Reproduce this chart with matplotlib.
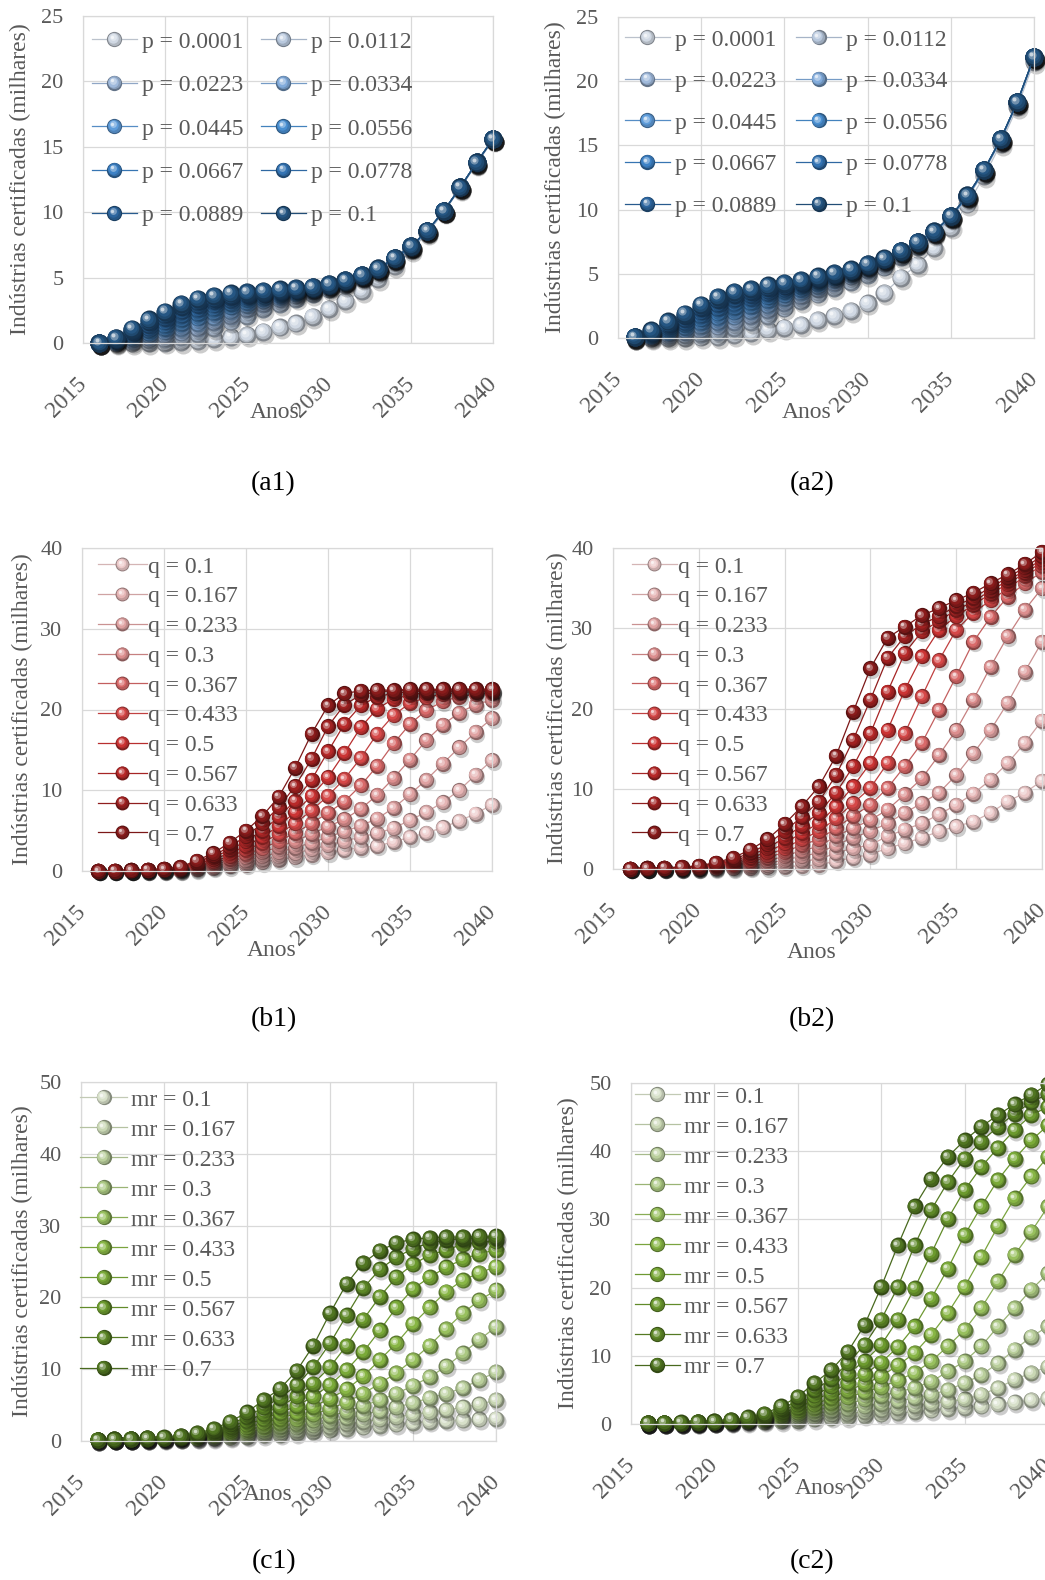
import numpy as np
import matplotlib
matplotlib.use('Agg')
import matplotlib.pyplot as plt
from matplotlib import transforms
from matplotlib.colors import to_rgb
from matplotlib.lines import Line2D
from matplotlib.legend_handler import HandlerBase

plt.rcParams['font.family'] = ['Liberation Serif', 'DejaVu Serif']

years = list(range(2016, 2041))

a_labels = ['p = 0.0001', 'p = 0.0112', 'p = 0.0223', 'p = 0.0334', 'p = 0.0445',
            'p = 0.0556', 'p = 0.0667', 'p = 0.0778', 'p = 0.0889', 'p = 0.1']
b_labels = ['q = 0.1', 'q = 0.167', 'q = 0.233', 'q = 0.3', 'q = 0.367',
            'q = 0.433', 'q = 0.5', 'q = 0.567', 'q = 0.633', 'q = 0.7']
c_labels = ['mr = 0.1', 'mr = 0.167', 'mr = 0.233', 'mr = 0.3', 'mr = 0.367',
            'mr = 0.433', 'mr = 0.5', 'mr = 0.567', 'mr = 0.633', 'mr = 0.7']

# (a1) one row per year, columns = p from 0.0001 to 0.1
a1_rows = [
    [0, 0, 0, 0, 0, 0, 0, 0, 0, 0],
    [0, .05, .1, .14, .19, .23, .27, .32, .36, .4],
    [0, .13, .26, .38, .5, .62, .74, .86, .98, 1.1],
    [.01, .22, .43, .63, .82, 1.0, 1.2, 1.4, 1.6, 1.8],
    [.03, .32, .6, .88, 1.15, 1.4, 1.65, 1.9, 2.15, 2.4],
    [.08, .45, .82, 1.18, 1.52, 1.85, 2.15, 2.45, 2.75, 3.0],
    [.18, .7, 1.15, 1.55, 1.95, 2.3, 2.6, 2.9, 3.15, 3.4],
    [.3, 1.15, 1.6, 2.0, 2.4, 2.7, 2.95, 3.2, 3.4, 3.6],
    [.45, 1.65, 2.1, 2.45, 2.8, 3.05, 3.3, 3.5, 3.65, 3.8],
    [.6, 2.1, 2.6, 2.9, 3.15, 3.35, 3.55, 3.7, 3.8, 3.9],
    [.85, 2.6, 3.0, 3.25, 3.45, 3.6, 3.75, 3.85, 3.93, 4.0],
    [1.2, 3.0, 3.35, 3.55, 3.7, 3.82, 3.92, 4.0, 4.05, 4.1],
    [1.5, 3.4, 3.65, 3.8, 3.92, 4.0, 4.07, 4.12, 4.16, 4.2],
    [2.0, 3.75, 3.95, 4.05, 4.12, 4.18, 4.22, 4.25, 4.28, 4.3],
    [2.6, 4.1, 4.25, 4.33, 4.38, 4.42, 4.45, 4.47, 4.49, 4.5],
    [3.2, 4.45, 4.58, 4.65, 4.7, 4.73, 4.76, 4.78, 4.79, 4.8],
    [4.0, 4.95, 5.05, 5.1, 5.13, 5.15, 5.17, 5.18, 5.19, 5.2],
    [4.9, 5.5, 5.58, 5.62, 5.65, 5.67, 5.68, 5.69, 5.7, 5.7],
    [5.9, 6.3, 6.38, 6.42, 6.45, 6.47, 6.48, 6.49, 6.5, 6.5],
    [7.1, 7.25, 7.3, 7.33, 7.35, 7.37, 7.38, 7.39, 7.4, 7.4],
    [8.4, 8.5, 8.53, 8.55, 8.57, 8.58, 8.59, 8.6, 8.6, 8.6],
    [10.0, 10.05, 10.07, 10.08, 10.09, 10.1, 10.1, 10.1, 10.1, 10.1],
    [11.8, 11.85, 11.87, 11.88, 11.89, 11.9, 11.9, 11.9, 11.9, 11.9],
    [13.7, 13.75, 13.77, 13.78, 13.79, 13.8, 13.8, 13.8, 13.8, 13.8],
    [15.5, 15.55, 15.57, 15.58, 15.59, 15.6, 15.6, 15.6, 15.6, 15.6],
]

# (a2) one row per year
a2_rows = [
    [0, .01, .02, .03, .04, .05, .06, .07, .08, .1],
    [0, .07, .13, .2, .27, .33, .4, .47, .53, .6],
    [.01, .15, .3, .44, .58, .72, .87, 1.0, 1.15, 1.3],
    [.02, .23, .45, .66, .87, 1.08, 1.28, 1.5, 1.7, 1.9],
    [.05, .35, .65, .95, 1.25, 1.52, 1.8, 2.07, 2.33, 2.6],
    [.1, .5, .9, 1.28, 1.65, 2.0, 2.33, 2.65, 2.95, 3.2],
    [.25, .8, 1.25, 1.68, 2.07, 2.43, 2.75, 3.07, 3.35, 3.6],
    [.4, 1.25, 1.7, 2.1, 2.48, 2.82, 3.1, 3.37, 3.6, 3.8],
    [.65, 1.7, 2.2, 2.6, 2.95, 3.25, 3.5, 3.72, 3.92, 4.1],
    [.8, 2.3, 2.75, 3.1, 3.4, 3.65, 3.85, 4.02, 4.17, 4.3],
    [1.0, 2.9, 3.3, 3.6, 3.85, 4.05, 4.2, 4.32, 4.42, 4.5],
    [1.4, 3.4, 3.8, 4.08, 4.3, 4.46, 4.58, 4.67, 4.74, 4.8],
    [1.7, 3.9, 4.3, 4.55, 4.72, 4.84, 4.92, 4.98, 5.02, 5.05],
    [2.1, 4.4, 4.8, 5.0, 5.12, 5.2, 5.26, 5.3, 5.33, 5.35],
    [2.7, 4.9, 5.3, 5.48, 5.58, 5.64, 5.68, 5.71, 5.73, 5.75],
    [3.5, 5.5, 5.85, 6.0, 6.08, 6.12, 6.15, 6.17, 6.19, 6.2],
    [4.7, 6.3, 6.55, 6.65, 6.7, 6.73, 6.76, 6.78, 6.79, 6.8],
    [5.7, 7.1, 7.3, 7.38, 7.42, 7.45, 7.47, 7.48, 7.49, 7.5],
    [7.0, 8.1, 8.2, 8.24, 8.26, 8.27, 8.28, 8.29, 8.3, 8.3],
    [8.6, 9.3, 9.4, 9.43, 9.45, 9.47, 9.48, 9.49, 9.5, 9.5],
    [10.4, 10.9, 11.0, 11.03, 11.05, 11.07, 11.08, 11.09, 11.1, 11.1],
    [12.6, 12.95, 13.0, 13.03, 13.05, 13.07, 13.08, 13.09, 13.1, 13.1],
    [15.1, 15.35, 15.42, 15.45, 15.47, 15.48, 15.49, 15.5, 15.5, 15.5],
    [18.0, 18.25, 18.32, 18.35, 18.37, 18.38, 18.39, 18.4, 18.4, 18.4],
    [21.5, 21.75, 21.82, 21.85, 21.87, 21.88, 21.89, 21.9, 21.9, 21.9],
]

# (b1) one row per series, q = 0.1 ... 0.7
b1_series = [
    [0, 0, .05, .05, .1, .1, .2, .4, .6, .8, 1.1, 1.4, 1.7, 2.0, 2.3, 2.6, 2.9, 3.1, 3.6, 4.2, 4.7, 5.4, 6.2, 7.1, 8.2],
    [0, .05, .05, .05, .1, .1, .3, .5, .75, 1.0, 1.4, 1.8, 2.2, 2.7, 3.2, 3.7, 4.2, 4.7, 5.3, 6.3, 7.3, 8.5, 10.0, 11.9, 13.7],
    [0, .05, .05, .1, .1, .15, .4, .65, .95, 1.3, 1.8, 2.3, 2.9, 3.5, 4.2, 4.9, 5.6, 6.5, 7.8, 9.5, 11.3, 13.3, 15.3, 17.2, 18.9],
    [0, .05, .05, .1, .15, .2, .5, .8, 1.2, 1.7, 2.3, 3.0, 3.7, 4.6, 5.5, 6.4, 7.7, 9.4, 11.5, 13.8, 16.2, 18.1, 19.6, 20.6, 21.2],
    [0, .05, .1, .1, .15, .25, .6, 1.0, 1.5, 2.1, 2.8, 3.7, 4.7, 5.9, 7.2, 8.6, 10.6, 13.0, 15.8, 18.2, 19.9, 21.0, 21.6, 21.9, 22.0],
    [0, .05, .1, .15, .2, .3, .7, 1.2, 1.8, 2.6, 3.5, 4.6, 5.9, 7.5, 9.3, 11.4, 14.0, 17.0, 19.3, 20.8, 21.5, 21.9, 22.1, 22.2, 22.2],
    [0, .05, .1, .15, .2, .35, .85, 1.45, 2.2, 3.1, 4.2, 5.6, 7.3, 9.3, 11.6, 14.6, 17.8, 20.1, 21.3, 21.8, 22.1, 22.2, 22.3, 22.3, 22.3],
    [0, .05, .1, .15, .2, .4, 1.0, 1.7, 2.6, 3.7, 5.0, 6.7, 8.7, 11.3, 14.8, 18.2, 20.5, 21.6, 22.0, 22.2, 22.3, 22.4, 22.4, 22.4, 22.4],
    [0, .05, .1, .15, .25, .45, 1.1, 1.9, 3.0, 4.3, 5.9, 7.9, 10.5, 13.9, 17.9, 20.6, 21.8, 22.2, 22.3, 22.4, 22.4, 22.5, 22.5, 22.5, 22.5],
    [0, .05, .1, .15, .25, .5, 1.3, 2.2, 3.5, 5.0, 6.8, 9.2, 12.8, 17.0, 20.5, 22.0, 22.3, 22.4, 22.4, 22.5, 22.5, 22.5, 22.5, 22.5, 22.5],
]

# (b2) one row per series
b2_series = [
    [.05, .05, .05, .05, .05, .08, .1, .15, .2, .3, .4, .5, 1.0, 1.4, 1.8, 2.6, 3.2, 3.9, 4.7, 5.3, 5.9, 7.0, 8.4, 9.5, 11.0],
    [.05, .05, .05, .05, .07, .12, .2, .3, .45, .7, 1.0, 1.2, 2.0, 2.6, 3.0, 4.1, 4.9, 5.7, 6.8, 8.0, 9.4, 11.1, 13.2, 15.7, 18.5],
    [.05, .05, .05, .07, .1, .2, .3, .45, .7, 1.1, 1.6, 2.0, 3.0, 3.9, 4.7, 5.7, 7.0, 8.2, 9.5, 11.7, 14.4, 17.3, 20.7, 24.6, 28.3],
    [.05, .05, .07, .1, .14, .25, .4, .65, 1.0, 1.6, 2.3, 2.8, 4.1, 5.1, 6.1, 7.4, 9.3, 11.3, 14.2, 17.3, 21.1, 25.2, 29.0, 32.3, 35.0],
    [.05, .07, .1, .12, .17, .3, .5, .9, 1.4, 2.1, 3.0, 3.7, 5.1, 6.6, 8.0, 10.1, 12.8, 15.7, 19.8, 24.0, 28.3, 31.4, 33.9, 35.6, 37.0],
    [.05, .08, .1, .14, .2, .4, .65, 1.1, 1.7, 2.6, 3.7, 4.7, 6.3, 8.2, 10.1, 13.2, 16.9, 21.5, 26.0, 29.8, 31.9, 33.5, 34.9, 36.5, 37.8],
    [.05, .1, .12, .16, .25, .5, .8, 1.4, 2.1, 3.2, 4.5, 5.7, 7.8, 10.3, 13.2, 17.3, 22.3, 26.5, 29.8, 31.5, 32.9, 34.3, 35.5, 36.9, 38.2],
    [.05, .1, .14, .18, .3, .6, 1.0, 1.7, 2.6, 3.9, 5.4, 7.0, 9.5, 12.8, 16.9, 22.1, 26.9, 29.6, 30.9, 32.3, 33.3, 34.7, 35.9, 37.2, 38.6],
    [.05, .1, .15, .2, .35, .7, 1.2, 2.0, 3.1, 4.7, 6.5, 8.4, 11.7, 16.1, 21.1, 26.3, 29.0, 30.5, 31.5, 32.8, 33.8, 35.1, 36.3, 37.6, 39.0],
    [.05, .1, .15, .25, .4, .8, 1.4, 2.4, 3.7, 5.6, 7.8, 10.3, 14.1, 19.6, 25.0, 28.8, 30.2, 31.6, 32.5, 33.5, 34.4, 35.6, 36.7, 38.0, 39.5],
]

# (c1) one row per year, columns = mr from 0.1 to 0.7
c1_rows = [
    [.1, .1, .1, .12, .13, .14, .15, .17, .18, .2],
    [.15, .16, .17, .18, .19, .2, .21, .22, .23, .25],
    [.2, .2, .21, .22, .23, .24, .25, .27, .28, .3],
    [.2, .22, .24, .26, .28, .3, .32, .35, .37, .4],
    [.25, .27, .3, .32, .35, .38, .4, .43, .46, .5],
    [.3, .3, .35, .4, .45, .5, .55, .6, .65, .7],
    [.35, .4, .45, .5, .6, .7, .8, .9, 1.0, 1.1],
    [.4, .5, .6, .7, .8, .95, 1.1, 1.3, 1.5, 1.7],
    [.5, .6, .8, 1.0, 1.2, 1.4, 1.7, 2.0, 2.3, 2.7],
    [.6, .8, 1.0, 1.3, 1.6, 1.9, 2.3, 2.8, 3.4, 4.0],
    [.8, 1.0, 1.3, 1.6, 2.0, 2.5, 3.1, 3.8, 4.7, 5.7],
    [.9, 1.2, 1.6, 2.0, 2.5, 3.1, 3.9, 4.8, 6.0, 7.3],
    [1.1, 1.4, 1.9, 2.4, 3.0, 3.9, 4.9, 6.2, 7.8, 9.8],
    [1.3, 1.7, 2.2, 2.9, 3.7, 4.8, 6.2, 8.0, 10.3, 13.3],
    [1.5, 2.0, 2.7, 3.5, 4.5, 5.9, 7.8, 10.3, 13.6, 17.8],
    [1.7, 2.4, 3.2, 4.1, 5.4, 7.2, 9.9, 13.3, 17.5, 21.9],
    [1.9, 2.7, 3.7, 4.9, 6.6, 9.0, 12.4, 16.9, 21.3, 24.8],
    [2.1, 3.0, 4.2, 5.7, 8.0, 11.3, 15.4, 20.1, 23.9, 26.5],
    [2.3, 3.3, 4.7, 6.6, 9.5, 13.6, 18.6, 22.8, 25.6, 27.6],
    [2.5, 3.7, 5.3, 7.7, 11.3, 16.3, 21.2, 24.6, 26.8, 28.1],
    [2.7, 4.0, 6.0, 8.9, 13.3, 18.6, 22.8, 25.9, 27.6, 28.3],
    [2.8, 4.3, 6.6, 10.4, 15.6, 20.8, 24.2, 26.6, 28.0, 28.4],
    [2.9, 4.7, 7.4, 12.2, 17.8, 22.4, 25.3, 27.4, 28.2, 28.4],
    [3.0, 5.1, 8.5, 14.1, 19.6, 23.4, 26.1, 27.7, 28.3, 28.5],
    [3.1, 5.7, 9.6, 15.9, 21.0, 24.3, 26.6, 27.8, 28.3, 28.5],
]

# (c2) one row per year
c2_rows = [
    [.05, .06, .07, .08, .09, .1, .11, .12, .13, .15],
    [.08, .09, .1, .11, .12, .13, .14, .15, .17, .2],
    [.1, .11, .12, .13, .14, .15, .17, .19, .21, .25],
    [.1, .12, .14, .16, .18, .2, .22, .25, .28, .3],
    [.2, .22, .24, .26, .28, .3, .32, .35, .37, .4],
    [.25, .28, .31, .34, .37, .41, .45, .5, .55, .6],
    [.3, .4, .45, .5, .55, .6, .65, .75, .85, 1.0],
    [.35, .5, .6, .7, .8, .9, 1.0, 1.15, 1.3, 1.5],
    [.4, .6, .8, 1.0, 1.2, 1.4, 1.6, 1.9, 2.2, 2.6],
    [.5, .8, 1.1, 1.4, 1.7, 2.0, 2.4, 2.9, 3.4, 4.0],
    [.7, 1.1, 1.5, 1.9, 2.4, 2.9, 3.5, 4.2, 5.0, 6.0],
    [.9, 1.4, 1.9, 2.5, 3.1, 3.8, 4.6, 5.5, 6.6, 7.9],
    [1.0, 1.5, 2.2, 3.0, 3.9, 4.9, 6.0, 7.4, 8.9, 10.6],
    [1.2, 1.8, 2.6, 3.6, 4.7, 5.9, 7.3, 9.2, 11.6, 14.5],
    [1.4, 2.1, 3.0, 4.1, 5.4, 7.0, 9.0, 11.6, 15.3, 20.1],
    [1.6, 2.4, 3.4, 4.7, 6.4, 8.6, 11.3, 15.3, 20.1, 26.2],
    [1.8, 2.7, 3.8, 5.3, 7.5, 10.4, 14.3, 19.9, 26.2, 31.9],
    [2.0, 3.0, 4.3, 6.2, 9.2, 13.1, 18.4, 25.0, 31.4, 35.9],
    [2.2, 3.3, 5.0, 7.7, 11.4, 16.3, 22.8, 30.1, 35.5, 39.2],
    [2.4, 3.6, 6.0, 9.2, 13.8, 20.1, 27.7, 34.3, 38.9, 41.6],
    [2.6, 4.3, 7.2, 11.4, 17.0, 24.5, 31.9, 37.7, 41.4, 43.6],
    [2.9, 5.3, 8.9, 14.3, 20.9, 29.0, 35.8, 40.5, 43.6, 45.3],
    [3.2, 6.5, 10.9, 17.0, 24.8, 33.1, 38.9, 43.1, 45.5, 46.9],
    [3.5, 7.5, 12.8, 19.7, 28.2, 36.3, 41.6, 45.3, 47.2, 48.3],
    [3.8, 8.4, 14.3, 22.1, 31.9, 39.2, 43.8, 46.5, 48.4, 49.8],
]

blues = ['#d0d8e3', '#b8c8dd', '#a0badc', '#82acdc', '#5f9ddb',
         '#4a90d2', '#3d82c6', '#3474b4', '#2c659e', '#255683']
reds = ['#ecc9c9', '#e6b5b5', '#e0a2a2', '#dc8e8e', '#d96a6a',
        '#d64848', '#cc3434', '#b82929', '#a02121', '#8a1b1b']
greens = ['#d7e0c9', '#c9d7b4', '#bacf9c', '#abc882', '#98c05e',
          '#88b645', '#7aaa38', '#6c9a2e', '#5e8827', '#507521']

GREY = '#595959'
GRID = '#d9d9d9'
W, H = 1045, 1580

fig = plt.figure(figsize=(W / 100, H / 100), dpi=100)


def mix(c, other, t):
    a = np.array(to_rgb(c))
    b = np.array(to_rgb(other))
    return tuple(a + (b - a) * t)


def sphere_layers(color):
    # offset (fraction of diameter), relative size, colour -> fake shaded ball
    return [
        (0.00, 0.00, 1.00, mix(color, 'black', 0.38)),
        (-0.04, 0.04, 0.86, mix(color, 'black', 0.15)),
        (-0.08, 0.08, 0.68, color),
        (-0.12, 0.12, 0.45, mix(color, 'white', 0.35)),
        (-0.16, 0.16, 0.22, mix(color, 'white', 0.75)),
    ]


def shifted(base, dx, dy):
    return base + transforms.ScaledTranslation(dx / 72, dy / 72, fig.dpi_scale_trans)


def draw_series(ax, y, color, ms):
    ax.plot(years, y, 'o', ms=ms, color='black', alpha=0.2, mew=0, clip_on=False,
            transform=shifted(ax.transData, 0.1 * ms, -0.16 * ms))
    ax.plot(years, y, '-', lw=0.9, color=mix(color, 'black', 0.1), clip_on=False)
    for dx, dy, f, c in sphere_layers(color):
        ax.plot(years, y, 'o', ms=ms * f, color=c, mew=0, clip_on=False,
                transform=shifted(ax.transData, dx * ms, dy * ms))


class SphereHandler(HandlerBase):
    def create_artists(self, legend, orig, xdescent, ydescent, width, height, fontsize, trans):
        color = orig.get_color()
        ms = orig.get_markersize()
        yc = height / 2 - ydescent
        line = Line2D([-xdescent, -xdescent + width], [yc, yc], lw=0.9,
                      color=mix(color, 'black', 0.1))
        line.set_transform(trans)
        arts = [line]
        cx = -xdescent + width / 2
        for dx, dy, f, c in sphere_layers(color):
            m = Line2D([cx], [yc], marker='o', ls='none', ms=ms * f, color=c, mew=0)
            m.set_transform(shifted(trans, dx * ms, dy * ms))
            arts.append(m)
        return arts


def fx(px):
    return px / W


def fy(py):
    return 1 - py / H


def panel(box, ymax, ystep, series, labels, colors, ms, leg, ylab_x, anos, caption, cap_xy):
    x0, x1, yt, yb = box
    ax = fig.add_axes([fx(x0), fy(yb), (x1 - x0) / W, (yb - yt) / H])
    ax.set_xlim(2015, 2040)
    ax.set_ylim(0, ymax)
    ax.set_xticks(range(2015, 2041, 5))
    ax.set_yticks(np.arange(0, ymax + 1, ystep))
    ax.grid(True, color=GRID, lw=0.9)
    ax.set_axisbelow(True)
    for s in ax.spines.values():
        s.set_color(GRID)
        s.set_linewidth(0.9)
    ax.tick_params(length=0, labelsize=16, labelcolor=GREY)
    ax.tick_params(axis='y', pad=14)
    ax.tick_params(axis='x', pad=27, labelsize=17)
    for lbl in ax.get_xticklabels():
        lbl.set_rotation(45)
        lbl.set_ha('right')
        lbl.set_va('center')
        lbl.set_rotation_mode('anchor')

    for k, y in enumerate(series):
        draw_series(ax, y, colors[k], ms)

    handles = [Line2D([], [], color=colors[k], ms=leg['ms'], label=labels[k]) for k in range(10)]
    order = list(range(10))
    if leg['ncol'] == 2:
        order = [0, 2, 4, 6, 8, 1, 3, 5, 7, 9]
    ax.legend([handles[i] for i in order], [labels[i] for i in order],
              loc='upper left', bbox_to_anchor=(fx(leg['x']), fy(leg['y'])),
              bbox_transform=fig.transFigure, frameon=False, ncol=leg['ncol'],
              fontsize=17, labelcolor=GREY, borderpad=0, borderaxespad=0,
              handlelength=leg['hl'], handletextpad=leg['tp'],
              labelspacing=leg['ls'], columnspacing=leg.get('cs', 0.8),
              handler_map={Line2D: SphereHandler()})

    fig.text(fx(ylab_x), fy((yt + yb) / 2), 'Indústrias certificadas (milhares)',
             rotation=90, ha='center', va='center', fontsize=17, color=GREY)
    fig.text(fx(anos[0]), fy(anos[1]), 'Anos', ha='center', va='center', fontsize=17, color=GREY)
    fig.text(fx(cap_xy[0]), fy(cap_xy[1]), caption, ha='center', va='center', fontsize=20, color='black')
    return ax


a_leg1 = dict(x=92, y=31, ncol=2, ms=11, hl=1.9, tp=0.2, ls=0.93, cs=0.76)
a_leg2 = dict(x=625, y=29, ncol=2, ms=11, hl=1.9, tp=0.2, ls=0.85, cs=0.85)
b_leg1 = dict(x=98, y=556, ncol=1, ms=10, hl=2.07, tp=0.05, ls=0.35)
b_leg2 = dict(x=632, y=556, ncol=1, ms=10, hl=1.9, tp=0.05, ls=0.35)
c_leg1 = dict(x=80, y=1089, ncol=1, ms=11, hl=2.0, tp=0.17, ls=0.36)
c_leg2 = dict(x=635, y=1086, ncol=1, ms=11, hl=1.9, tp=0.17, ls=0.36)

panel((83, 493, 16, 343), 25, 5, np.array(a1_rows).T, a_labels, blues, 13, a_leg1,
      20, (275, 413), '(a1)', (273, 484))
panel((618, 1034, 17, 338), 25, 5, np.array(a2_rows).T, a_labels, blues, 13, a_leg2,
      555, (807, 412), '(a2)', (812, 484))
panel((82, 492, 548, 871), 40, 10, b1_series, b_labels, reds, 11, b_leg1,
      22, (272, 951), '(b1)', (274, 1020))
panel((613, 1042, 548, 869), 40, 10, b2_series, b_labels, reds, 11, b_leg2,
      557, (812, 952), '(b2)', (812, 1020))
panel((81, 496, 1082, 1441), 50, 10, np.array(c1_rows).T, c_labels, greens, 11.5, c_leg1,
      22, (268, 1494), '(c1)', (274, 1562))
panel((631, 1048, 1083, 1424), 50, 10, np.array(c2_rows).T, c_labels, greens, 11.5, c_leg2,
      568, (820, 1489), '(c2)', (812, 1562))

fig.savefig('out.png', dpi=100)
